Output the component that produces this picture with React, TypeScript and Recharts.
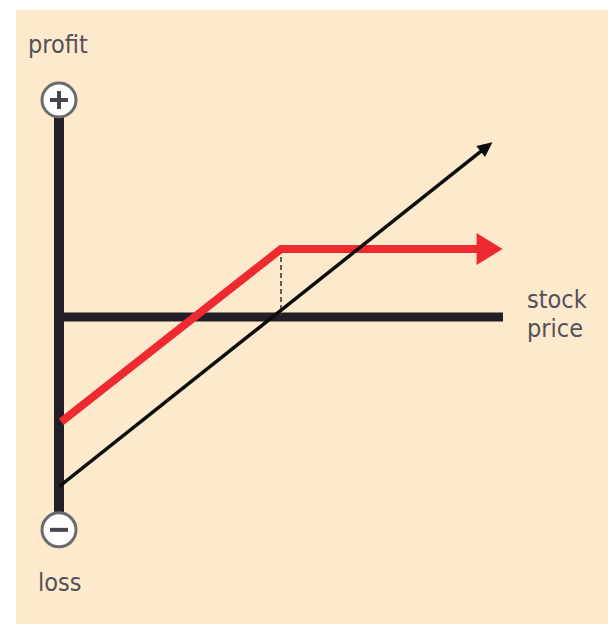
import React from "react";
import {
  ComposedChart, Line, XAxis, YAxis, ReferenceLine, ReferenceDot,
} from "recharts";

// stock price (0..100) vs profit/loss (-100..100)
const stockLine = [
  { price: 0, pl: -79 },
  { price: 95.5, pl: 77 },
];
const callPayoff = [
  { price: 0.5, pl: -49 },
  { price: 50, pl: 31 },
  { price: 94.5, pl: 31 },
];
const strikePrice = 50;
const strikeProfit = 31;
const axisLabels = { up: "profit", down: "loss", right: ["stock", "price"] };

const W = 608;
const H = 625;
const font = "'Liberation Sans Narrow', 'DejaVu Sans Condensed', 'Roboto', sans-serif";

function arrowDot(len: number, half: number, color: string, back: number) {
  return (props: any) => {
    const { cx, cy, index, points } = props;
    const last = points ? points.length - 1 : -1;
    if (index !== last || !points) return <g key={`d-${index}`} />;
    const prev = points[index - 1];
    const a = Math.atan2(cy - prev.y, cx - prev.x);
    const c = Math.cos(a);
    const s = Math.sin(a);
    const bx = cx - back * c;
    const by = cy - back * s;
    const pts = [
      [bx + len * c, by + len * s],
      [bx - half * s, by + half * c],
      [bx + half * s, by - half * c],
    ];
    return (
      <polygon
        key={`d-${index}`}
        points={pts.map((p) => p.join(",")).join(" ")}
        fill={color}
      />
    );
  };
}

function signDot(sign: "+" | "-") {
  return (props: any) => {
    const { cx, cy } = props;
    return (
      <g>
        <circle cx={cx} cy={cy} r={17} fill="#fff" stroke="#6b6b6b" strokeWidth={3} />
        <line x1={cx - 9} y1={cy} x2={cx + 9} y2={cy} stroke="#4a4550" strokeWidth={4} />
        {sign === "+" && (
          <line x1={cx} y1={cy - 9} x2={cx} y2={cy + 9} stroke="#4a4550" strokeWidth={4} />
        )}
      </g>
    );
  };
}

const textStyle: React.CSSProperties = {
  position: "absolute",
  fontFamily: font,
  fontSize: 25,
  color: "#55505a",
  lineHeight: "29px",
};

export default function App() {
  return (
    <div style={{ position: "absolute", left: 0, top: 0, width: W, height: H, background: "#fff" }}>
      <div style={{ position: "absolute", left: 16, top: 10, right: 0, bottom: 1, background: "#fde9cb" }} />
      <div style={{ position: "absolute", left: 0, top: 0 }}>
        <ComposedChart
          width={W}
          height={H}
          margin={{ top: 100, right: 105, bottom: 93, left: 59 }}
        >
          <XAxis type="number" dataKey="price" domain={[0, 100]} hide allowDataOverflow />
          <YAxis type="number" dataKey="pl" domain={[-100, 100]} hide allowDataOverflow />
          <ReferenceLine
            segment={[{ x: 0, y: -100 }, { x: 0, y: 100 }]}
            stroke="#231f2a"
            strokeWidth={10}
            ifOverflow="visible"
          />
          <ReferenceLine
            segment={[{ x: 0, y: -0.5 }, { x: 100, y: -0.5 }]}
            stroke="#231f2a"
            strokeWidth={9}
            ifOverflow="visible"
          />
          <ReferenceLine
            segment={[{ x: strikePrice, y: strikeProfit }, { x: strikePrice, y: 0 }]}
            stroke="#333"
            strokeWidth={1.5}
            strokeDasharray="5 3"
            ifOverflow="visible"
          />
          <Line
            data={callPayoff}
            dataKey="pl"
            type="linear"
            stroke="#ee2a30"
            strokeWidth={8}
            strokeLinejoin="miter"
            dot={arrowDot(26, 16, "#ee2a30", 2)}
            activeDot={false}
            isAnimationActive={false}
          />
          <Line
            data={stockLine}
            dataKey="pl"
            type="linear"
            stroke="#0d0d0d"
            strokeWidth={3.5}
            dot={arrowDot(15, 7, "#0d0d0d", 3)}
            activeDot={false}
            isAnimationActive={false}
          />
          <ReferenceDot x={0} y={100} r={17} shape={signDot("+")} ifOverflow="visible" />
          <ReferenceDot x={0} y={-99} r={17} shape={signDot("-")} ifOverflow="visible" />
        </ComposedChart>
      </div>
      <div style={{ ...textStyle, left: 28, top: 30 }}>{axisLabels.up}</div>
      <div style={{ ...textStyle, left: 38, top: 568 }}>{axisLabels.down}</div>
      <div style={{ ...textStyle, left: 527, top: 285 }}>
        {axisLabels.right[0]}
        <br />
        {axisLabels.right[1]}
      </div>
    </div>
  );
}
